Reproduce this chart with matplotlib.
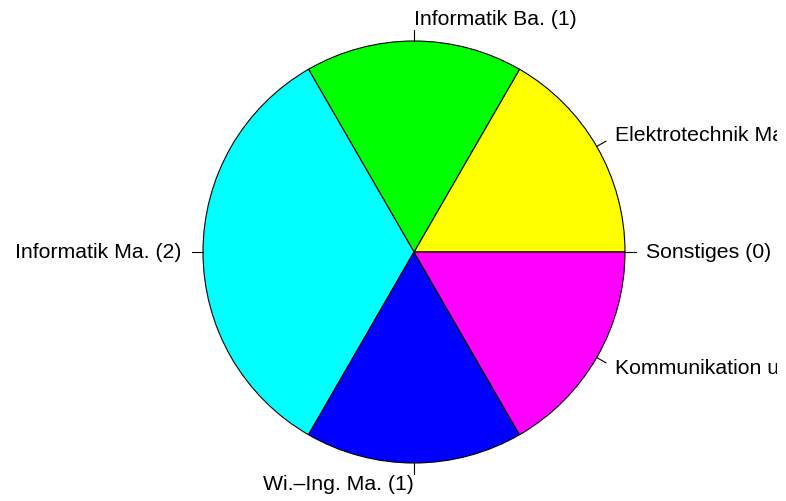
### Imports ###
import numpy as np
import matplotlib
matplotlib.use('Agg')
import matplotlib.pyplot as plt

### Data ###
labels = ['Sonstiges (0)', 'Elektrotechnik Ma. (1)', 'Informatik Ba. (1)',
          'Informatik Ma. (2)', 'Wi.\u2013Ing. Ma. (1)',
          'Kommunikation und Medientechnik Ma. (1)']
counts = [0, 1, 1, 2, 1, 1]
colors = ['#FF0000', '#FFFF00', '#00FF00', '#00FFFF', '#0000FF', '#FF00FF']

### Plot ###
W, H = 786, 501
CLIP_X = 777  # the original device clips the labels a little before the edge
fig = plt.figure(figsize=(W / 100, H / 100), dpi=100)
ax = fig.add_axes([0, 0, CLIP_X / W, 1])

# Pie geometry in pixel units (y up)
cx, cy, r = 414, H - 252, 211
ax.pie(counts, colors=colors, startangle=0, counterclock=True,
       radius=r, center=(cx, cy),
       wedgeprops=dict(edgecolor='black', linewidth=0.8))

# R-style labels: tick from 1.0r to 1.05r, text at 1.1r
edges = np.concatenate([[0], np.cumsum(counts)]) / np.sum(counts)
mids = 2 * np.pi * (edges[:-1] + edges[1:]) / 2
for lab, a in zip(labels, mids):
    x, y = np.cos(a), np.sin(a)
    ax.plot([cx + r * x, cx + 1.05 * r * x], [cy + r * y, cy + 1.05 * r * y],
            color='black', lw=0.8)
    ax.text(cx + 1.1 * r * x, cy + 1.1 * r * y, lab,
            ha='left' if x > 0 else 'right', va='center', clip_on=True,
            fontsize=15.3, family='Liberation Sans', color='black')

ax.set_xlim(0, CLIP_X)
ax.set_ylim(0, H)
ax.set_aspect('auto')
ax.axis('off')

fig.savefig('out.png', dpi=100)
